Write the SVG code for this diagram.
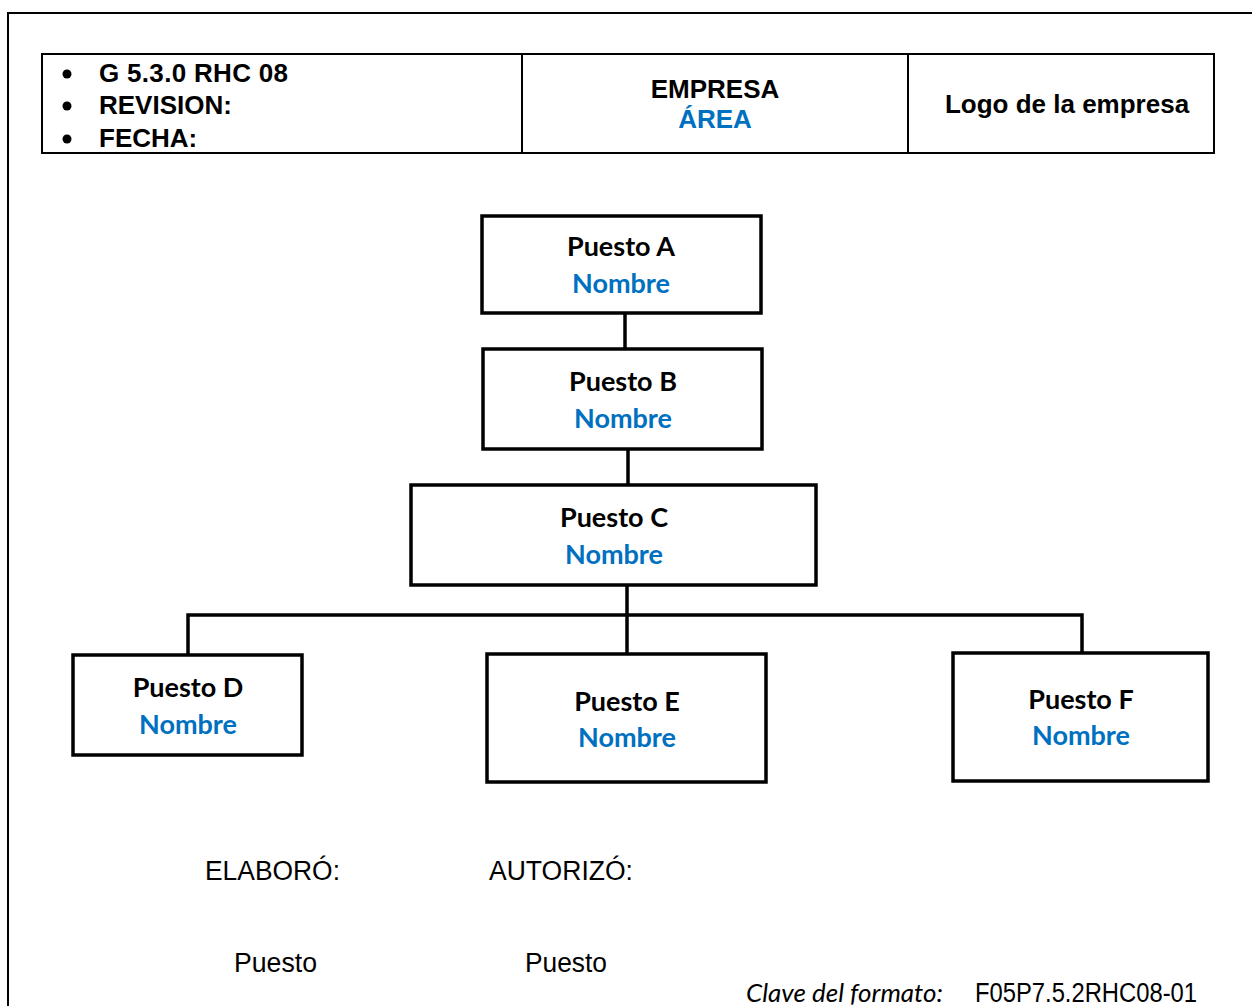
<svg xmlns="http://www.w3.org/2000/svg" width="1252" height="1006" viewBox="0 0 1252 1006">
  <style>
    .frame { fill: none; stroke: #000; stroke-width: 2; }
    .box { fill: #fff; stroke: #000; stroke-width: 3.5; }
    .link { fill: none; stroke: #000; stroke-width: 3.5; }
    .hdr { font-family: "Liberation Sans", Arial, sans-serif; font-weight: bold; font-size: 26px; fill: #000; }
    .hdr-blue { fill: #0070C0; }
    .title { font-family: Lato, "Open Sans", sans-serif; font-weight: bold; font-size: 27px; fill: #000; text-anchor: middle; }
    .name { font-family: Lato, "Open Sans", sans-serif; font-weight: bold; font-size: 27px; fill: #0070C0; text-anchor: middle; }
    .foot { font-family: "Liberation Sans", Arial, sans-serif; font-size: 27px; fill: #000; }
    .key { font-family: Lato, "Open Sans", sans-serif; font-style: italic; font-size: 25px; fill: #000; }
  </style>
  <rect width="1252" height="1006" fill="#fff"/>

  <!-- page frame -->
  <path class="frame" d="M8 1006 V13 H1252"/>

  <!-- header table -->
  <g id="header">
    <rect x="42" y="54" width="1172" height="99" class="frame"/>
    <line x1="522" y1="54" x2="522" y2="153" class="frame"/>
    <line x1="908" y1="54" x2="908" y2="153" class="frame"/>
    <circle cx="67" cy="74" r="4.5"/>
    <circle cx="67" cy="106" r="4.5"/>
    <circle cx="67" cy="139" r="4.5"/>
    <text class="hdr" x="99" y="82" textLength="189">G 5.3.0 RHC 08</text>
    <text class="hdr" x="99" y="114">REVISION:</text>
    <text class="hdr" x="99" y="147">FECHA:</text>
    <text class="hdr" x="715" y="98" text-anchor="middle">EMPRESA</text>
    <text class="hdr hdr-blue" x="715" y="128" text-anchor="middle">ÁREA</text>
    <text class="hdr" x="1067" y="113" text-anchor="middle">Logo de la empresa</text>
  </g>

  <!-- connectors -->
  <g id="connectors">
    <line class="link" x1="625" y1="313" x2="625" y2="349"/>
    <line class="link" x1="628" y1="449" x2="628" y2="485"/>
    <line class="link" x1="627" y1="585" x2="627" y2="654"/>
    <polyline class="link" points="188,655 188,615 1082,615 1082,653"/>
  </g>

  <g id="puesto-a">
    <rect class="box" x="482" y="216" width="279" height="97"/>
    <text class="title" x="621" y="256">Puesto A</text>
    <text class="name" x="621" y="293">Nombre</text>
  </g>
  <g id="puesto-b">
    <rect class="box" x="483" y="349" width="279" height="100"/>
    <text class="title" x="623" y="391">Puesto B</text>
    <text class="name" x="623" y="428">Nombre</text>
  </g>
  <g id="puesto-c">
    <rect class="box" x="411" y="485" width="405" height="100"/>
    <text class="title" x="614" y="527">Puesto C</text>
    <text class="name" x="614" y="564">Nombre</text>
  </g>
  <g id="puesto-d">
    <rect class="box" x="73" y="655" width="229" height="100"/>
    <text class="title" x="188" y="697">Puesto D</text>
    <text class="name" x="188" y="734">Nombre</text>
  </g>
  <g id="puesto-e">
    <rect class="box" x="487" y="654" width="279" height="128"/>
    <text class="title" x="627" y="711">Puesto E</text>
    <text class="name" x="627" y="747">Nombre</text>
  </g>
  <g id="puesto-f">
    <rect class="box" x="953" y="653" width="255" height="128"/>
    <text class="title" x="1081" y="709">Puesto F</text>
    <text class="name" x="1081" y="745">Nombre</text>
  </g>

  <!-- signatures and form key -->
  <g id="footer">
    <text class="foot" x="205" y="880" textLength="135" lengthAdjust="spacingAndGlyphs">ELABORÓ:</text>
    <text class="foot" x="489" y="880" textLength="144" lengthAdjust="spacingAndGlyphs">AUTORIZÓ:</text>
    <text class="foot" x="234" y="972" textLength="83" lengthAdjust="spacingAndGlyphs">Puesto</text>
    <text class="foot" x="525" y="972" textLength="82" lengthAdjust="spacingAndGlyphs">Puesto</text>
    <text class="key" x="746" y="1002" textLength="197" lengthAdjust="spacingAndGlyphs">Clave del formato:</text>
    <text class="foot" x="975" y="1002" textLength="222" lengthAdjust="spacingAndGlyphs">F05P7.5.2RHC08-01</text>
  </g>
</svg>
